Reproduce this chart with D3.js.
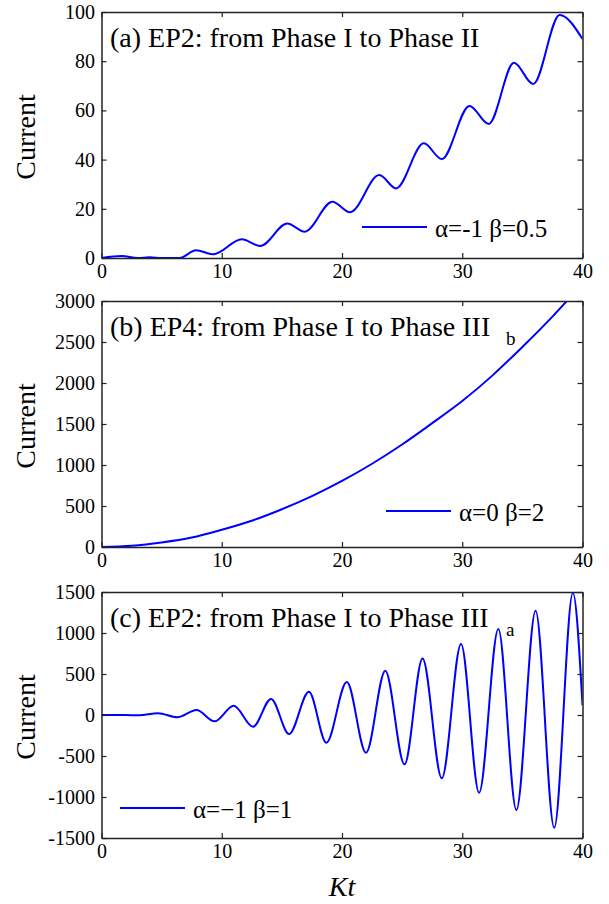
<!DOCTYPE html>
<html>
<head>
<meta charset="utf-8">
<script src="https://cdn.jsdelivr.net/npm/d3@7"></script>
<style>
  body { margin: 0; background: #fff; }
</style>
</head>
<body>
<div id="chart"></div>
<script>
// x values (Kt) and current values per panel
const xTicks = [0, 10, 20, 30, 40];

// (a) EP2: from Phase I to Phase II
const aKt = [0, 1.7, 3, 4, 5, 6.5, 7.86, 9.3, 11.66, 13.2, 15.45, 16.9, 19.2, 20.67, 23.1, 24.5, 26.8, 28.3, 30.6, 32.2, 34.3, 35.9, 38.1, 40];
const aCurrent = [0, 0.8, 0, 0.3, 0, 0, 3.2, 1.5, 7.6, 4.9, 14.0, 10.7, 22.9, 18.6, 33.7, 28.3, 46.6, 40.2, 61.8, 54.5, 79.4, 70.7, 98.8, 89];
const aTicks = [0, 20, 40, 60, 80, 100];

// (b) EP4: from Phase I to Phase III_b
const bKt = [0, 2.5, 5, 7.5, 10, 12.5, 15, 17.5, 20, 22.5, 25, 27.5, 30, 32.5, 35, 37.5, 38.7];
const bCurrent = [0, 15, 55, 115, 210, 320, 460, 620, 805, 1015, 1250, 1510, 1780, 2090, 2440, 2810, 3000];
const bTicks = [0, 500, 1000, 1500, 2000, 2500, 3000];

// (c) EP2: from Phase I to Phase III_a
const cKt = [0, 2, 3.1, 4.7, 6.3, 7.9, 9.4, 11.0, 12.6, 14.1, 15.6, 17.25, 18.7, 20.4, 22.0, 23.6, 25.2, 26.7, 28.3, 29.9, 31.4, 33.0, 34.5, 36.1, 37.65, 39.2, 40];
const cCurrent = [0, 0, -4, 20, -28, 61, -77, 113, -143, 195, -232, 284, -338, 402, -460, 540, -602, 690, -772, 866, -948, 1049, -1159, 1272, -1376, 1491, 120];
const cTicks = [-1500, -1000, -500, 0, 500, 1000, 1500];

const panels = [
  { kt: aKt, cur: aCurrent, ticks: aTicks, top: 12, title: "(a) EP2: from Phase I to Phase II", sub: "",
    legend: "α=-1 β=0.5", legX: 362, legY: 227 },
  { kt: bKt, cur: bCurrent, ticks: bTicks, top: 301, title: "(b) EP4: from Phase I to Phase III", sub: "b",
    legend: "α=0 β=2", legX: 386, legY: 511 },
  { kt: cKt, cur: cCurrent, ticks: cTicks, top: 592, title: "(c) EP2: from Phase I to Phase III", sub: "a",
    legend: "α=\u22121 β=1", legX: 120, legY: 808 }
];

const W = 609, H = 904;
const left = 101.5, right = 582.5, ph = 246;
const serif = "Liberation Serif";

const svg = d3.select("#chart").append("svg")
  .attr("width", W)
  .attr("height", H)
  .attr("font-family", serif);

const x = d3.scaleLinear().domain([0, 40]).range([left, right]);

panels.forEach(p => {
  const y = d3.scaleLinear()
    .domain([p.ticks[0], p.ticks[p.ticks.length - 1]])
    .range([p.top + ph, p.top]);

  const clipId = "clip" + p.top;
  svg.append("clipPath").attr("id", clipId)
    .append("rect")
    .attr("x", left).attr("y", p.top)
    .attr("width", right - left).attr("height", ph);

  const line = d3.line()
    .x((d, i) => x(p.kt[i]))
    .y(d => y(d))
    .curve(d3.curveMonotoneX);

  svg.append("path")
    .datum(p.cur)
    .attr("clip-path", `url(#${clipId})`)
    .attr("fill", "none")
    .attr("stroke", "#0000ff")
    .attr("stroke-width", 2)
    .attr("d", line);

  // axes, ticks pointing inward on all four sides
  const bottom = svg.append("g")
    .attr("transform", `translate(0,${p.top + ph})`)
    .call(d3.axisBottom(x).tickValues(xTicks).tickSizeInner(-5).tickSizeOuter(0).tickPadding(6).tickFormat(d => String(d)));
  const leftAx = svg.append("g")
    .attr("transform", `translate(${left},0)`)
    .call(d3.axisLeft(y).tickValues(p.ticks).tickSizeInner(-5).tickSizeOuter(0).tickPadding(6.5).tickFormat(d => String(d)));
  const topAx = svg.append("g")
    .attr("transform", `translate(0,${p.top})`)
    .call(d3.axisTop(x).tickValues(xTicks).tickSizeInner(-5).tickSizeOuter(0).tickFormat(""));
  const rightAx = svg.append("g")
    .attr("transform", `translate(${right},0)`)
    .call(d3.axisRight(y).tickValues(p.ticks).tickSizeInner(-5).tickSizeOuter(0).tickFormat(""));

  [bottom, leftAx, topAx, rightAx].forEach(g => {
    g.attr("font-family", serif).attr("font-size", 20);
    g.select(".domain").attr("stroke", "#222").attr("stroke-width", 1.5);
    g.selectAll(".tick line").attr("stroke", "#222").attr("stroke-width", 1.2);
    g.selectAll(".tick text").attr("fill", "#000");
  });

  // y label
  svg.append("text")
    .attr("transform", `translate(35,${p.top + ph / 2 + 2}) rotate(-90)`)
    .attr("text-anchor", "middle")
    .attr("font-size", 28)
    .text("Current");

  // title
  svg.append("text")
    .attr("x", 110)
    .attr("y", p.top + 35)
    .attr("font-size", 28)
    .text(p.title);
  if (p.sub) {
    svg.append("text")
      .attr("x", 506)
      .attr("y", p.top + 44)
      .attr("font-size", 19)
      .text(p.sub);
  }

  // legend
  svg.append("line")
    .attr("x1", p.legX).attr("x2", p.legX + 65)
    .attr("y1", p.legY).attr("y2", p.legY)
    .attr("stroke", "#0000ff")
    .attr("stroke-width", 2);
  svg.append("text")
    .attr("x", p.legX + 73)
    .attr("y", p.legY + 10)
    .attr("font-size", 25)
    .text(p.legend);
});

svg.append("text")
  .attr("x", (left + right) / 2)
  .attr("y", 896)
  .attr("text-anchor", "middle")
  .attr("font-size", 28)
  .attr("font-style", "italic")
  .text("Kt");
</script>
</body>
</html>
